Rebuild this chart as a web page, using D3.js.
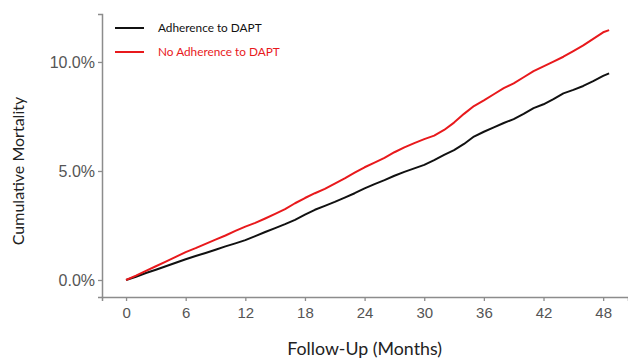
<!DOCTYPE html>
<html>
<head>
<meta charset="utf-8">
<script src="https://cdn.jsdelivr.net/npm/d3@7/dist/d3.min.js"></script>
<style>
  html, body { margin: 0; padding: 0; background: #fff; }
  svg { display: block; }
</style>
</head>
<body>
<svg id="chart" width="628" height="359"></svg>
<script>
// Follow-up time in months
const months = [0,1,2,3,4,5,6,7,8,9,10,11,12,13,14,15,16,17,18,19,20,21,22,23,24,
  25,26,27,28,29,30,31,32,33,34,35,36,37,38,39,40,41,42,43,44,45,46,47,48,48.6];

// Cumulative mortality (%), adherent patients
const adherence = [0.00,0.15,0.32,0.47,0.63,0.79,0.95,1.10,1.24,1.39,1.54,1.68,1.83,
  2.01,2.20,2.38,2.56,2.76,3.00,3.22,3.40,3.58,3.78,3.98,4.20,4.40,4.58,4.78,4.96,
  5.12,5.28,5.50,5.74,5.96,6.24,6.58,6.80,7.00,7.20,7.38,7.62,7.88,8.06,8.30,8.56,
  8.72,8.90,9.12,9.36,9.48];

// Cumulative mortality (%), non-adherent patients
const noAdherence = [0.00,0.20,0.42,0.63,0.84,1.06,1.28,1.46,1.66,1.85,2.04,2.25,2.45,
  2.62,2.82,3.03,3.25,3.52,3.76,3.98,4.18,4.42,4.66,4.92,5.17,5.38,5.60,5.86,6.08,
  6.28,6.46,6.62,6.88,7.22,7.62,7.98,8.24,8.52,8.80,9.02,9.30,9.58,9.80,10.02,10.24,
  10.50,10.76,11.06,11.36,11.46];

const xTicks = [0, 6, 12, 18, 24, 30, 36, 42, 48];
const yTicks = [0, 5, 10];
const seriesNames = ["Adherence to DAPT", "No Adherence to DAPT"];
const seriesColors = ["#111111", "#e8191c"];

const svg = d3.select("#chart");

const x = d3.scaleLinear().domain([-2.42, 50.5]).range([102, 628]);
const y = d3.scaleLinear().domain([-0.78, 12.2]).range([297, 14]);

const axisColor = "#8c8c8c";
const tickTextColor = "#555555";

// x axis
const gx = svg.append("g")
  .attr("transform", `translate(0,${y.range()[0]})`)
  .call(d3.axisBottom(x).tickValues(xTicks).tickFormat(d3.format("d"))
    .tickSizeOuter(0).tickSize(4).tickPadding(6));
gx.select(".domain").attr("stroke", axisColor).attr("stroke-width", 1.5);
gx.selectAll(".tick line").attr("stroke", axisColor).attr("stroke-width", 1.3);
gx.selectAll(".tick text")
  .attr("fill", tickTextColor)
  .style("font-family", "'Liberation Sans', Arial, sans-serif")
  .style("font-size", "15px");

// y axis
const gy = svg.append("g")
  .attr("transform", `translate(${x.range()[0]},0)`)
  .call(d3.axisLeft(y).tickValues(yTicks).tickFormat(d => d3.format(".1f")(d) + "%")
    .tickSizeOuter(0).tickSize(4).tickPadding(3));
gy.select(".domain").attr("stroke", axisColor).attr("stroke-width", 1.5);
gy.selectAll(".tick line").attr("stroke", axisColor).attr("stroke-width", 1.3);
gy.selectAll(".tick text")
  .attr("fill", tickTextColor)
  .style("font-family", "'Liberation Sans', Arial, sans-serif")
  .style("font-size", "16px");

// curves
const line = d3.line()
  .x((d, i) => x(months[i]))
  .y(d => y(d));

[adherence, noAdherence].forEach((vals, k) => {
  svg.append("path")
    .datum(vals)
    .attr("fill", "none")
    .attr("stroke", seriesColors[k])
    .attr("stroke-width", 2)
    .attr("stroke-linejoin", "round")
    .attr("d", line);
});

// axis titles
svg.append("text")
  .attr("x", x(24))
  .attr("y", 355)
  .attr("text-anchor", "middle")
  .attr("fill", "#222")
  .style("font-family", "Lato, 'Open Sans', sans-serif")
  .style("font-size", "17.8px")
  .text("Follow-Up (Months)");

svg.append("text")
  .attr("transform", "translate(24,171) rotate(-90)")
  .attr("text-anchor", "middle")
  .attr("fill", "#222")
  .style("font-family", "Lato, 'Open Sans', sans-serif")
  .style("font-size", "16px")
  .text("Cumulative Mortality");

// legend
const legend = svg.append("g").attr("transform", "translate(115,28)");
seriesNames.forEach((name, k) => {
  const row = legend.append("g").attr("transform", `translate(0,${k * 24})`);
  row.append("line")
    .attr("x1", 0).attr("x2", 29)
    .attr("stroke", seriesColors[k]).attr("stroke-width", 2);
  row.append("text")
    .attr("x", 43).attr("dy", "0.35em")
    .attr("fill", seriesColors[k])
    .style("font-family", "Lato, 'Open Sans', sans-serif")
    .style("font-size", "11.8px")
    .text(name);
});
</script>
</body>
</html>
